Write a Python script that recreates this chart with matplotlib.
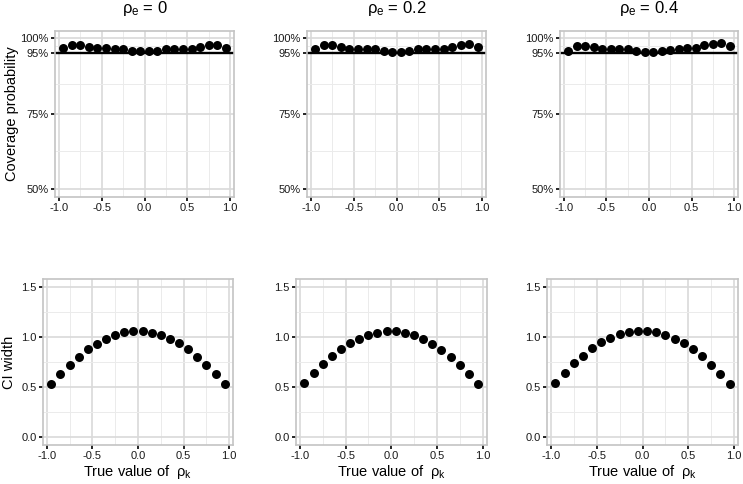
import numpy as np
import matplotlib
matplotlib.use("Agg")
import matplotlib.pyplot as plt

plt.rcParams['font.family'] = ['Liberation Sans', 'DejaVu Sans']
plt.rcParams['mathtext.fontset'] = 'custom'
plt.rcParams['mathtext.rm'] = 'Liberation Sans'
plt.rcParams['mathtext.it'] = 'Liberation Sans'
plt.rcParams['mathtext.bf'] = 'Liberation Sans'

# true rho_k values
rho_k = [-0.95, -0.85, -0.75, -0.65, -0.55, -0.45, -0.35, -0.25, -0.15, -0.05,
         0.05, 0.15, 0.25, 0.35, 0.45, 0.55, 0.65, 0.75, 0.85, 0.95]

rho_e_labels = [r'$\rho_{e}$ = 0', r'$\rho_{e}$ = 0.2', r'$\rho_{e}$ = 0.4']

# coverage probability (fraction), one list per rho_e
cover_0 = [0.967, 0.979, 0.978, 0.972, 0.967, 0.967, 0.964, 0.964, 0.959, 0.957,
           0.957, 0.959, 0.963, 0.963, 0.964, 0.966, 0.970, 0.976, 0.979, 0.967]
cover_2 = [0.963, 0.977, 0.976, 0.970, 0.963, 0.966, 0.963, 0.963, 0.958, 0.954,
           0.954, 0.959, 0.963, 0.963, 0.964, 0.964, 0.970, 0.978, 0.981, 0.970]
cover_4 = [0.959, 0.973, 0.973, 0.970, 0.963, 0.963, 0.963, 0.963, 0.957, 0.954,
           0.953, 0.957, 0.962, 0.964, 0.967, 0.968, 0.978, 0.980, 0.983, 0.973]

# CI width, one list per rho_e
width_0 = [0.533, 0.629, 0.722, 0.805, 0.877, 0.934, 0.983, 1.020, 1.046, 1.056,
           1.056, 1.043, 1.017, 0.983, 0.937, 0.877, 0.805, 0.725, 0.632, 0.533]
width_2 = [0.539, 0.638, 0.730, 0.809, 0.882, 0.938, 0.984, 1.020, 1.043, 1.056,
           1.056, 1.043, 1.016, 0.984, 0.934, 0.875, 0.806, 0.724, 0.628, 0.530]
width_4 = [0.546, 0.645, 0.737, 0.816, 0.888, 0.947, 0.993, 1.026, 1.049, 1.059,
           1.059, 1.046, 1.020, 0.980, 0.941, 0.882, 0.809, 0.724, 0.632, 0.530]

coverage = [cover_0, cover_2, cover_4]
widths = [width_0, width_2, width_4]

x_ticks = [-1.0, -0.5, 0.0, 0.5, 1.0]
x_ticklabels = ['-1.0', '-0.5', '0.0', '0.5', '1.0']
cov_ticks = [0.50, 0.75, 0.95, 1.00]
cov_ticklabels = ['50%', '75%', '95%', '100%']
wid_ticks = [0.0, 0.5, 1.0, 1.5]
wid_ticklabels = ['0.0', '0.5', '1.0', '1.5']

W, H = 743, 484
fig = plt.figure(figsize=(W / 100, H / 100), dpi=100)


def px_axes(x0, x1, y0, y1):
    # pixel box (top-left origin) -> figure axes
    return fig.add_axes([x0 / W, 1 - y1 / H, (x1 - x0) / W, (y1 - y0) / H])


def style(ax, yticks, yticklabels, yminor):
    ax.set_xlim(-1.045, 1.045)
    ax.set_xticks(x_ticks)
    ax.set_xticklabels(x_ticklabels)
    ax.set_xticks([-0.75, -0.25, 0.25, 0.75], minor=True)
    ax.set_yticks(yticks)
    ax.set_yticklabels(yticklabels)
    ax.set_yticks(yminor, minor=True)
    ax.grid(True, which='major', color='#d9d9d9', linewidth=1.2, zorder=0)
    ax.grid(True, which='minor', color='#ebebeb', linewidth=0.7, zorder=0)
    ax.set_axisbelow(True)
    for s in ax.spines.values():
        s.set_color('#c4c4c4')
        s.set_linewidth(1.2)
    ax.tick_params(which='major', length=3, width=1.2, color='black',
                   labelsize=8, labelcolor='#1a1a1a', pad=1.5)
    ax.tick_params(which='minor', length=0)


top_boxes = [(55, 234), (307, 486), (560, 738)]
bot_boxes = [(42.7, 233.3), (295.7, 486.7), (546.7, 738.3)]

for i in range(3):
    ax = px_axes(top_boxes[i][0], top_boxes[i][1], 30.7, 196.7)
    ax.axhline(0.95, color='black', linewidth=1.7, zorder=2)
    ax.scatter(rho_k, coverage[i], s=42, color='black', zorder=3, linewidths=0)
    ax.set_ylim(0.475, 1.025)
    style(ax, cov_ticks, cov_ticklabels, [0.625, 0.85, 0.975])
    ax.set_title(rho_e_labels[i], fontsize=12, pad=13)
    if i == 0:
        ax.set_ylabel('Coverage probability', fontsize=10.5, labelpad=1)

    bx = px_axes(bot_boxes[i][0], bot_boxes[i][1], 279.3, 445)
    bx.scatter(rho_k, widths[i], s=42, color='black', zorder=3, linewidths=0)
    bx.set_ylim(-0.075, 1.575)
    style(bx, wid_ticks, wid_ticklabels, [0.25, 0.75, 1.25])
    bx.set_xlabel(r'True value of  $\rho_{k}$', fontsize=10.5, labelpad=1)
    if i == 0:
        bx.set_ylabel('CI width', fontsize=10.5, labelpad=4)

fig.savefig('out.png', dpi=100)
